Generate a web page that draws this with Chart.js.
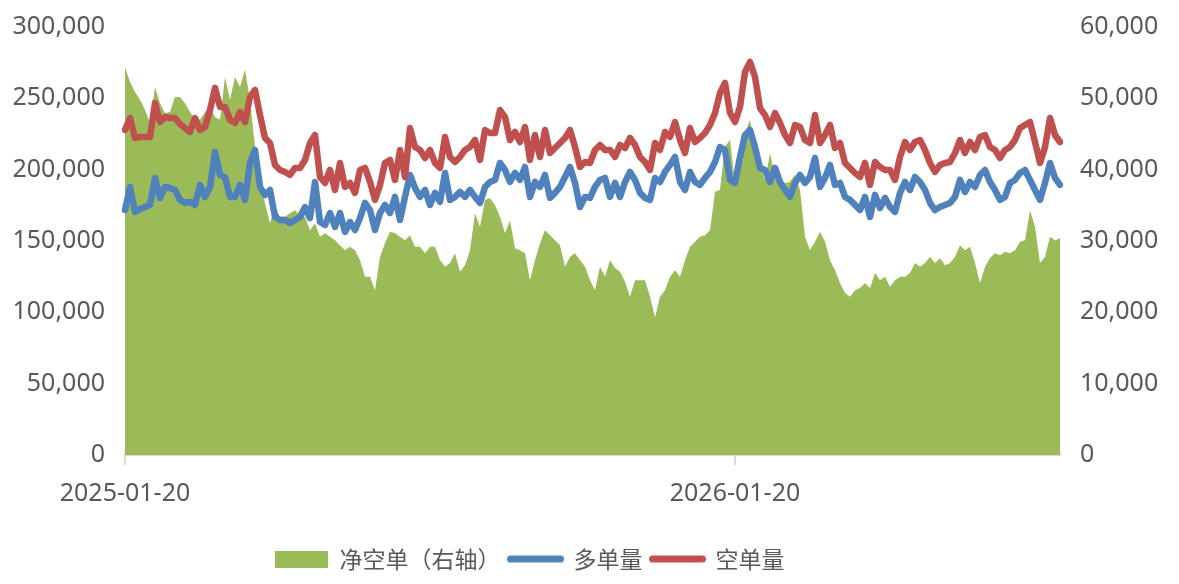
<!DOCTYPE html>
<html>
<head>
<meta charset="utf-8">
<script src="https://cdn.jsdelivr.net/npm/chart.js@4/dist/chart.umd.min.js"></script>
<style>
html,body{margin:0;padding:0;background:#fff;}
#wrap{width:1179px;height:584px;position:relative;}
</style>
</head>
<body>
<div id="wrap"><canvas id="c" width="1179" height="584"></canvas></div>
<script>
// ---- data ----
const startDate = '2025-01-20';
const tickLabels = ['2025-01-20', '2026-01-20'];
const seriesNames = ['净空单（右轴）', '多单量', '空单量'];

const netShort = [
54400,52300,50900,49800,48400,46500,51600,49300,47900,48100,
50200,50200,49300,48100,47000,47000,48100,48800,47400,47000,
53000,49800,53000,51600,54000,49800,43200,39000,35300,32500,
34800,33400,33400,33900,34300,33600,33400,31500,32500,30600,
31100,30600,30100,29400,28700,29200,28700,27300,25000,25000,
23100,27800,29700,31300,31100,30600,30100,30800,29200,29200,
28300,29200,29200,27300,26400,26900,28300,25700,26600,28700,
33900,32000,35800,36000,35000,33400,31100,32900,29000,28700,
28300,24500,27300,29700,31500,30800,30100,29400,26400,27800,
28300,27300,26400,24500,23100,26400,25000,27300,26200,25700,
24300,22200,24500,24500,24500,22200,19300,22200,23100,25000,
25900,25000,27300,29200,29900,30600,30800,31500,36900,37200,
43200,44200,38100,42800,45100,47000,42800,40400,38600,42300,
39000,38600,38100,38300,39300,37200,30600,28700,29900,31300,
29900,27300,25900,24100,22700,22200,23100,23400,24100,23400,
25500,24500,25000,23600,24500,25000,25000,25500,26900,26400,
26900,27800,26900,27600,26600,26900,27800,29400,28700,29200,
26900,24100,26400,27600,28300,28000,28500,28300,28700,29900,
30100,34300,32000,26900,27800,30600,30100,30400];

const longPos = [
171700,187900,170300,172400,173800,175300,194200,180200,187900,187200,
185800,178800,176700,177400,175300,189300,180900,187900,212400,196300,
194900,180900,180900,189300,178800,204700,213800,187900,182300,185800,
166800,164700,164700,162600,164700,166800,173800,166100,191400,163300,
161200,169600,159800,169600,156300,163300,157700,166100,176700,171700,
157700,169600,175300,169600,180900,164700,180900,196300,187200,180900,
185800,175300,183700,177400,197700,178800,180900,184400,180900,185800,
180900,176700,187900,191400,192800,204700,199800,191400,197700,192800,
201900,180900,191400,187900,196300,180200,183700,187900,194900,201900,
190700,173800,180900,180200,187900,192800,194200,180900,190700,180900,
191400,198400,192800,183700,180200,178800,194200,191400,198400,203300,
208900,191400,185800,198400,191400,189300,194200,198400,205400,215900,
213800,192800,190700,208900,224300,227800,215900,201200,199800,191400,
201200,191400,185800,180900,190700,196300,190700,194900,208200,187900,
194200,203300,189300,190700,180900,178800,175300,171700,180900,166800,
182300,173100,180200,173800,170300,183700,191400,185800,194900,191400,
185800,176700,171700,173800,175300,176700,180900,192800,184400,191400,
187900,196300,199800,191400,185800,178800,180900,190700,192800,197700,
199800,192800,185800,178800,190700,204700,194200,189300];

const shortPos = [
227800,236200,222200,222900,222900,222900,246800,233400,236900,236200,
236200,232000,229200,226400,236200,227800,229900,241800,257300,244000,
244000,234800,232700,240400,233400,251000,255900,238300,222200,218700,
203300,199800,198400,196300,201200,201200,206800,218700,224300,194900,
190700,199800,185800,204700,187900,190700,183700,199800,201200,191400,
178800,189300,204700,206800,192800,213800,194900,229200,215900,213800,
208200,213800,204700,201200,222900,208900,205400,208900,213800,215900,
220800,206800,227800,225700,225700,241800,236900,220800,226400,219400,
229900,206800,224300,208900,227800,211700,215200,218700,222200,227800,
215900,201900,205400,204700,213800,217300,213800,213800,208900,217300,
215200,222200,217300,208900,205400,199800,218700,213800,226400,222900,
233400,220800,211700,229200,219400,222200,225700,231300,239700,253800,
260800,239700,233400,244000,268500,275500,265000,243200,238300,229900,
239700,232700,224300,218700,231300,229900,220800,218700,238300,218700,
224300,231300,215200,218700,204700,201200,197700,194900,204700,189300,
205400,201900,199800,199800,192800,208900,219400,213800,219400,220800,
213800,204700,198400,203300,204700,205400,211700,220800,211700,219400,
213800,222900,224300,215900,213800,208200,213800,215900,220800,229200,
231300,233400,219400,204700,215900,236200,224300,219400];

// category labels: sampled dates from the start date (2026-01-20 falls on index 122)
const categories = netShort.map((_, i) => {
  const d = new Date(startDate + 'T00:00:00Z');
  d.setUTCDate(d.getUTCDate() + Math.round(i * 365 / 122));
  return d.toISOString().slice(0, 10);
});

// ---- styling ----
const C_GREEN = '#9bbb59', C_BLUE = '#4f81bd', C_RED = '#c0504d', C_TEXT = '#595959', C_AXIS = '#d9d9d9';
const FONT = "'Noto Sans', 'Noto Sans CJK SC', sans-serif";

function boxImg(color) {
  const cv = document.createElement('canvas'); cv.width = 53; cv.height = 17;
  const g = cv.getContext('2d'); g.fillStyle = color; g.fillRect(0, 0, 53, 17); return cv;
}
function lineImg(color) {
  const cv = document.createElement('canvas'); cv.width = 57; cv.height = 17;
  const g = cv.getContext('2d'); g.strokeStyle = color; g.lineWidth = 7; g.lineCap = 'round';
  g.beginPath(); g.moveTo(3.5, 8.5); g.lineTo(53.5, 8.5); g.stroke(); return cv;
}
const legendImgs = [boxImg(C_GREEN), lineImg(C_BLUE), lineImg(C_RED)];

const legendPlace = {
  id: 'legendPlace',
  afterLayout(chart) {
    const lg = chart.legend;
    const pad = chart.options.plugins.legend.labels.padding;
    lg.left = 275 - pad;
    lg.top = 559 - 11.5 - pad;
  }
};

const fmt = v => Number(v).toLocaleString('en-US');
const fitY = w => s => { s.width = w; s.paddingTop = 10; s.paddingBottom = 10; };

new Chart(document.getElementById('c'), {
  type: 'line',
  data: {
    labels: categories,
    datasets: [
      { label: seriesNames[0], data: netShort, yAxisID: 'y2', fill: 'origin',
        backgroundColor: C_GREEN, borderColor: 'rgba(0,0,0,0)', borderWidth: 0, pointRadius: 0, order: 3 },
      { label: seriesNames[1], data: longPos, yAxisID: 'y', fill: false,
        borderColor: C_BLUE, borderWidth: 6.5, pointRadius: 0, order: 2 },
      { label: seriesNames[2], data: shortPos, yAxisID: 'y', fill: false,
        borderColor: C_RED, borderWidth: 6.5, pointRadius: 0, order: 1 }
    ]
  },
  options: {
    responsive: false,
    animation: false,
    devicePixelRatio: 1,
    layout: { padding: { top: 27, left: 0, right: 0, bottom: 0 } },
    elements: { line: { tension: 0, borderJoinStyle: 'round', borderCapStyle: 'round' } },
    plugins: {
      tooltip: { enabled: false },
      legend: {
        position: 'bottom',
        align: 'start',
        labels: {
          usePointStyle: true,
          pointStyleWidth: 53,
          padding: 8.5,
          color: C_TEXT,
          font: { family: "'Noto Sans CJK SC', sans-serif", size: 23 },
          generateLabels: () => seriesNames.map((t, i) => ({
            text: t, pointStyle: legendImgs[i], datasetIndex: i,
            fillStyle: 'rgba(0,0,0,0)', strokeStyle: 'rgba(0,0,0,0)', lineWidth: 0, hidden: false, fontColor: C_TEXT
          }))
        }
      }
    },
    scales: {
      x: {
        type: 'category',
        grid: {
          drawOnChartArea: false, drawTicks: true, tickLength: 10, lineWidth: 2,
          color: ctx => (ctx.tick && tickLabels.includes(categories[ctx.index])) ? C_AXIS : 'rgba(0,0,0,0)'
        },
        border: { display: true, color: C_AXIS, width: 2 },
        ticks: {
          autoSkip: false, maxRotation: 0, minRotation: 0, padding: 14, color: C_TEXT,
          font: { family: FONT, size: 25 },
          callback: function (value) { const l = this.getLabelForValue(value); return tickLabels.includes(l) ? l : ''; }
        },
        afterFit: s => { s.height = 87.5; }
      },
      y: {
        position: 'left', min: 0, max: 300000,
        grid: { display: false, drawTicks: false },
        border: { display: false },
        ticks: { stepSize: 50000, padding: 20, color: C_TEXT, font: { family: FONT, size: 25 }, callback: fmt },
        afterFit: fitY(125)
      },
      y2: {
        position: 'right', min: 0, max: 60000,
        grid: { display: false, drawTicks: false },
        border: { display: false },
        ticks: { stepSize: 10000, padding: 20, color: C_TEXT, font: { family: FONT, size: 25 }, callback: fmt },
        afterFit: fitY(119)
      }
    }
  },
  plugins: [legendPlace]
});
</script>
</body>
</html>
